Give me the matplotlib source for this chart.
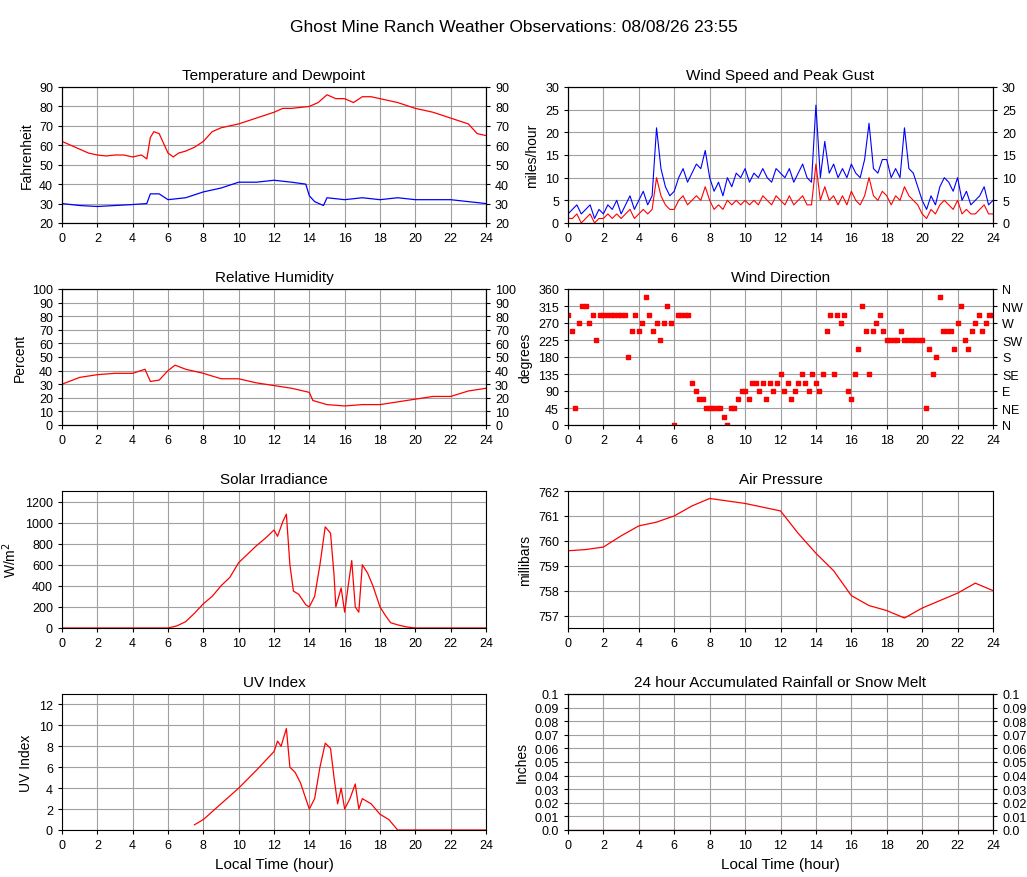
import matplotlib
matplotlib.use("Agg")
import matplotlib.pyplot as plt
import numpy as np

plt.rcParams['font.family'] = ['Liberation Sans', 'DejaVu Sans']
plt.rcParams['font.size'] = 10

# ---------------- data ----------------
temp_t = [0,0.5,1,1.5,2,2.5,3,3.5,4,4.5,4.8,5,5.2,5.5,5.8,6,6.3,6.6,7,7.5,8,8.5,9,10,11,12,12.5,13,14,14.5,15,15.5,16,16.5,17,17.5,18,19,20,21,22,23,23.5,24]
temp_v = [62,60,58,56,55,54.5,55,55,54,55,53,64,67,66,60,56,54,56,57,59,62,67,69,71,74,77,79,79,80,82,86,84,84,82,85,85,84,82,79,77,74,71,66,65]
dew_t = [0,1,2,3,4,4.8,5,5.5,6,7,8,9,10,11,12,13,13.8,14,14.3,14.8,15,16,17,18,19,20,21,22,23,24]
dew_v = [30,29,28.5,29,29.5,30,35,35,32,33,36,38,41,41,42,41,40,34,31,29,33,32,33,32,33,32,32,32,31,30]

wind_t = np.arange(0, 24.01, 0.25)
gust_v = [2,3,4,2,3,4,1,3,2,4,3,5,2,4,6,3,5,7,4,6,21,12,8,6,7,10,12,9,11,13,12,16,10,7,9,6,10,8,11,10,12,9,11,10,12,10,9,12,11,10,12,9,11,13,10,9,26,10,18,11,13,10,12,10,13,11,10,14,22,12,11,14,14,10,12,10,21,12,11,8,5,3,6,4,8,10,9,7,10,5,7,4,5,6,8,4,5]
speed_v = [1,1,2,0,1,2,0,1,1,2,1,2,1,2,3,1,2,3,2,3,10,6,4,3,3,5,6,4,5,6,5,8,5,3,4,3,5,4,5,4,5,4,5,4,6,5,4,6,5,4,6,4,5,6,4,4,13,5,8,5,6,4,6,4,7,5,4,6,10,6,5,7,6,4,6,5,8,6,5,4,2,1,3,2,4,5,4,3,5,2,3,2,2,3,4,2,2]

dir_t = np.round(np.arange(0, 24.01, 0.2), 1)
dir_v = [290,250,45,270,315,315,270,290,225,290,
         290,290,290,290,290,290,290,180,250,290,
         250,270,340,290,250,270,225,270,315,270,
         0,290,290,290,290,110,90,68,68,45,
         45,45,45,45,20,0,45,45,68,90,
         90,68,110,110,90,110,68,110,90,110,
         135,90,110,68,90,110,135,110,90,135,
         110,90,135,250,290,135,290,270,290,90,
         68,135,200,315,250,135,250,270,290,250,
         225,225,225,225,250,225,225,225,225,225,
         225,45,200,135,180,340,250,250,250,200,
         270,315,225,200,250,270,290,250,270,290,290]

rh_t = [0,1,2,3,4,4.7,5,5.5,6,6.4,7,8,9,10,11,12,13,14,14.2,15,16,17,18,19,20,21,22,23,24]
rh_v = [30,35,37,38,38,41,32,33,40,44,41,38,34,34,31,29,27,24,18,15,14,15,15,17,19,21,21,25,27]

sol_t = [0,6,6.5,7,7.5,8,8.5,9,9.5,10,10.5,11,11.5,12,12.2,12.5,12.7,12.9,13.1,13.4,13.8,14,14.3,14.6,14.9,15.2,15.4,15.5,15.8,16,16.2,16.4,16.6,16.8,17,17.3,17.6,18,18.3,18.6,19,19.5,20,24]
sol_v = [0,0,20,60,140,230,300,400,480,620,700,780,850,930,870,1010,1080,600,350,320,220,200,300,600,960,900,500,200,380,150,400,640,200,150,600,520,400,200,120,50,30,10,0,0]

pres_t = [0,1,2,3,4,5,6,7,8,9,10,11,12,13,14,15,16,17,18,19,20,21,22,23,24]
pres_v = [759.6,759.65,759.75,760.2,760.6,760.75,761.0,761.4,761.7,761.6,761.5,761.35,761.2,760.3,759.5,758.8,757.8,757.4,757.2,756.9,757.3,757.6,757.9,758.3,758.0]

uv_t = [7.5,8,9,10,11,12,12.2,12.4,12.7,12.9,13.2,13.5,14,14.3,14.6,14.9,15.2,15.4,15.6,15.8,16,16.3,16.6,16.8,17,17.5,18,18.5,19,24]
uv_v = [0.5,1,2.5,4,5.7,7.5,8.5,8,9.7,6,5.5,4.5,2,3,6,8.3,7.8,5,2.5,4,2,3,4.4,2,3,2.5,1.5,1,0,0]

rain_t = [0, 24]
rain_v = [0, 0]

n = min(len(wind_t), len(gust_v), len(speed_v))
m = min(len(dir_t), len(dir_v))

# ---------------- plot ----------------
fig = plt.figure(figsize=(10.27, 8.78), dpi=100)
W, H = 1027, 878
fig.suptitle("Ghost Mine Ranch Weather Observations: 08/08/26 23:55", y=1-20/H, fontsize=12.5)

def mkax(x0, x1, y0, y1):
    ax = fig.add_axes([x0/W, 1-y1/H, (x1-x0)/W, (y1-y0)/H])
    ax.set_xlim(0, 24)
    ax.set_xticks(range(0, 25, 2))
    ax.grid(True, color='#a0a0a0', linewidth=0.8)
    ax.tick_params(labelsize=9, direction='out', length=3)
    return ax

cols = [(62, 486), (568, 993)]
rows = [(88, 224), (290, 426), (492, 629), (695, 831)]

def twin(ax, ticks, labels=None):
    a2 = ax.twinx()
    a2.set_ylim(ax.get_ylim())
    a2.set_yticks(ticks)
    if labels is not None:
        a2.set_yticklabels(labels)
    a2.tick_params(labelsize=9, length=3)
    return a2

ax = mkax(*cols[0], *rows[0])
ax.plot(temp_t, temp_v, color='red', lw=0.9)
ax.plot(dew_t, dew_v, color='blue', lw=0.9)
ax.set_ylim(20, 90); ax.set_yticks(range(20, 91, 10))
ax.set_title("Temperature and Dewpoint", fontsize=11)
ax.set_ylabel("Fahrenheit")
twin(ax, range(20, 91, 10))

ax = mkax(*cols[1], *rows[0])
ax.plot(wind_t[:n], gust_v[:n], color='blue', lw=0.8)
ax.plot(wind_t[:n], speed_v[:n], color='red', lw=0.8)
ax.set_ylim(0, 30); ax.set_yticks(range(0, 31, 5))
ax.set_title("Wind Speed and Peak Gust", fontsize=11)
ax.set_ylabel("miles/hour")
twin(ax, range(0, 31, 5))

ax = mkax(*cols[0], *rows[1])
ax.plot(rh_t, rh_v, color='red', lw=0.9)
ax.set_ylim(0, 100); ax.set_yticks(range(0, 101, 10))
ax.set_title("Relative Humidity", fontsize=11)
ax.set_ylabel("Percent")
twin(ax, range(0, 101, 10))

ax = mkax(*cols[1], *rows[1])
ax.scatter(dir_t[:m], dir_v[:m], color='red', marker='s', s=7, zorder=3)
ax.set_ylim(0, 360); ax.set_yticks(range(0, 361, 45))
ax.set_title("Wind Direction", fontsize=11)
ax.set_ylabel("degrees")
twin(ax, range(0, 361, 45), ['N', 'NE', 'E', 'SE', 'S', 'SW', 'W', 'NW', 'N'])

ax = mkax(*cols[0], *rows[2])
ax.plot(sol_t, sol_v, color='red', lw=0.9)
ax.set_ylim(0, 1300); ax.set_yticks(range(0, 1201, 200))
ax.set_title("Solar Irradiance", fontsize=11)
ax.set_ylabel("W/m$^2$")

ax = mkax(*cols[1], *rows[2])
ax.plot(pres_t, pres_v, color='red', lw=0.9)
ax.set_ylim(756.5, 762); ax.set_yticks(range(757, 763))
ax.set_title("Air Pressure", fontsize=11)
ax.set_ylabel("millibars")

ax = mkax(*cols[0], *rows[3])
ax.plot(uv_t, uv_v, color='red', lw=0.9)
ax.set_ylim(0, 13); ax.set_yticks(range(0, 13, 2))
ax.set_title("UV Index", fontsize=11)
ax.set_ylabel("UV Index")
ax.set_xlabel("Local Time (hour)", fontsize=11)

rlabels = ['0.0'] + [f"{v:g}" for v in np.arange(0.01, 0.101, 0.01).round(2)]
ax = mkax(*cols[1], *rows[3])
ax.plot(rain_t, rain_v, color='red', lw=0.9)
ax.set_ylim(0, 0.1); ax.set_yticks(np.arange(0, 0.101, 0.01))
ax.set_yticklabels(rlabels)
ax.set_title("24 hour Accumulated Rainfall or Snow Melt", fontsize=11)
ax.set_ylabel("Inches")
ax.set_xlabel("Local Time (hour)", fontsize=11)
twin(ax, np.arange(0, 0.101, 0.01), rlabels)

fig.savefig("out.png", dpi=100)
